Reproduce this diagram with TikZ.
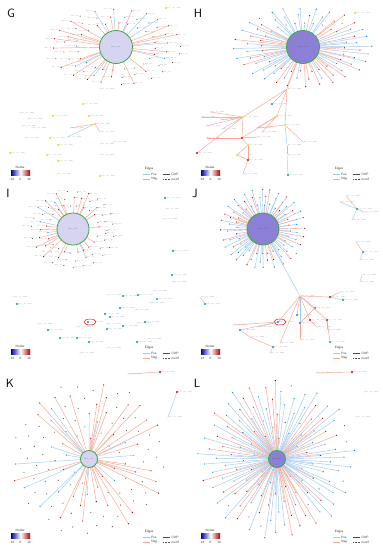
\documentclass[tikz,border=0pt]{standalone}
\usetikzlibrary{shapes.geometric}
\definecolor{posc}{RGB}{160,202,238}
\definecolor{negc}{RGB}{248,165,145}
\definecolor{hubl}{RGB}{214,212,240}
\definecolor{hubd}{RGB}{140,128,214}
\definecolor{ylw}{RGB}{235,215,30}
\definecolor{hubg}{RGB}{60,170,70}
\tikzset{
 lbl/.style={font=\fontsize{1.5}{1.8}\selectfont, text=black!55, inner sep=0.2pt},
 legt/.style={font=\sffamily\fontsize{3.2}{3.6}\selectfont, text=black!80, inner sep=0.2pt},
 plet/.style={font=\sffamily\fontsize{12}{12}\selectfont, inner sep=0pt},
 dotk/.style={circle, fill=black!75, inner sep=0pt, minimum size=1.1pt},
 dotb/.style={circle, fill=blue!50!cyan, inner sep=0pt, minimum size=1.3pt},
 dotr/.style={circle, fill=red!70!black, inner sep=0pt, minimum size=1.3pt},
 yl/.style={circle, fill=ylw, inner sep=0pt, minimum size=2.2pt, label={[lbl]right:hsa\_circ\_0000}},
 bl/.style={circle, fill=cyan!70!blue, inner sep=0pt, minimum size=2.2pt, label={[lbl]right:hsa\_circ\_0000}},
 rl/.style={circle, fill=red!80!black, inner sep=0pt, minimum size=2.2pt, label={[lbl]right:hsa\_circ\_0000}},
 tl/.style={circle, fill=black!40, inner sep=0pt, minimum size=0.8pt, label={[lbl]right:hsa\_circ\_0000}},
 posE/.style={draw=posc, line width=0.45pt},
 negE/.style={draw=negc, line width=0.45pt},
 hubL/.style={circle, draw=hubg, line width=0.8pt, fill=hubl, inner sep=0pt, font=\fontsize{1.8}{2}\selectfont, text=black!60},
 hubD/.style={circle, draw=hubg, line width=0.8pt, fill=hubd, inner sep=0pt, font=\fontsize{1.8}{2}\selectfont, text=black!70},
 ring/.style={draw=red, ellipse, line width=0.5pt, minimum width=12pt, minimum height=6pt, inner sep=0pt}
}
% ring network: #1 prefix #2 cx #3 cy #4 rx #5 ry #6 N #7 edge prob #8 blue prob #9 labels
\newcommand\ringnet[9]{%
 \coordinate (#1c) at (#2,#3);
 \foreach \i in {1,...,#6}{%
  \pgfmathsetmacro\ang{360/#6*\i+5*rnd}%
  \pgfmathsetmacro\ff{(mod(\i,3)==0 ? 0.62 : (mod(\i,3)==1 ? 0.82 : 1.0))+0.05*rnd}%
  \pgfmathsetmacro\px{#2+#4*\ff*cos(\ang)}%
  \pgfmathsetmacro\py{#3+#5*\ff*sin(\ang)}%
  \pgfmathsetmacro\cs{cos(\ang)}%
  \pgfmathsetmacro\ee{rnd}%
  \pgfmathsetmacro\bb{rnd}%
  \ifdim\ee pt<#7pt
    \ifdim\bb pt<#8pt
      \node[dotb] (#1\i) at (\px,\py) {};
      \draw[posE] (#1c) -- (#1\i);
    \else
      \node[dotr] (#1\i) at (\px,\py) {};
      \draw[negE] (#1c) -- (#1\i);
    \fi
  \else
    \node[dotk] (#1\i) at (\px,\py) {};
  \fi
  \ifnum#9=1
    \ifdim\cs pt<0pt
      \node[lbl,anchor=east] (#1t\i) at (#1\i.west) {hsa\_circ};
    \else
      \node[lbl,anchor=west] (#1t\i) at (#1\i.east) {hsa\_circ};
    \fi
  \fi
 }%
}
% disk network: #1 prefix #2 cx #3 cy #4 R #5 N #6 edge prob #7 blue prob
\newcommand\disknet[7]{%
 \coordinate (#1c) at (#2,#3);
 \foreach \i in {1,...,#5}{%
  \pgfmathsetmacro\ang{360*frac(\i*0.381966)}%
  \pgfmathsetmacro\rr{#4*sqrt((\i+7)/(#5+7))}%
  \pgfmathsetmacro\px{#2+\rr*cos(\ang)}%
  \pgfmathsetmacro\py{#3+\rr*sin(\ang)}%
  \pgfmathsetmacro\ee{rnd}%
  \pgfmathsetmacro\bb{rnd}%
  \ifdim\ee pt<#6pt
    \ifdim\bb pt<#7pt
      \node[dotb] (#1\i) at (\px,\py) {};
      \draw[posE] (#1c) -- (#1\i);
    \else
      \node[dotr] (#1\i) at (\px,\py) {};
      \draw[negE] (#1c) -- (#1\i);
    \fi
  \else
    \node[dotk] (#1\i) at (\px,\py) {};
  \fi
 }%
}
% legends: #1 prefix #2 dx #3 dy
\newcommand\legends[3]{%
 \begin{scope}[shift={(#2,#3)}]
  \node[legt] (#1nt) at (20,167) {Nodes};
  \shade[left color=blue!65!black, right color=red!70!black, middle color=white] (11,170) rectangle (30,175.5);
  \node[legt] (#1n1) at (12,179) {-10};
  \node[legt] (#1n2) at (20.5,179) {0};
  \node[legt] (#1n3) at (29,179) {10};
  \node[legt] (#1et) at (149,169) {Edges};
  \draw[posE, line width=0.7pt] (143,174) -- (150,174);
  \node[legt, anchor=west] (#1e1) at (151,174) {Pos.};
  \draw[black!70, line width=0.4pt] (163,174) -- (170,174);
  \node[legt, anchor=west] (#1e2) at (171,174) {ChIP};
  \draw[negE, line width=0.7pt] (143,179) -- (150,179);
  \node[legt, anchor=west] (#1e3) at (151,179) {Neg.};
  \draw[black!70, line width=0.4pt, dash pattern=on 0.6pt off 1pt] (163,179) -- (170,179);
  \node[legt, anchor=west] (#1e4) at (171,179) {motif};
 \end{scope}}
\begin{document}
\begin{tikzpicture}[x=1pt,y=-1pt]
\useasboundingbox[fill=white] (0,0) rectangle (383,550);
\pgfmathsetseed{7}
% ---------------- G ----------------
\node[plet] (pG) at (11,13) {G};
\ringnet{g}{116}{47}{62}{36}{72}{0.42}{0.22}{1}
\node[hubL, minimum size=33pt] (ghub) at (gc) {hsa\_circ};
\foreach \nm/\xx/\yy/\ty in {gs1/100/89/tl, gs2/83/104/yl, gs3/53/116/yl, gs4/89/116/yl, gs5/20/113/tl, gs6/28/119/tl, gs7/22/126/tl, gs8/32/128/tl, gs9/95/124/yl, gs10/70/128/tl, gs11/67/137/tl, gs12/100/132/tl, gs13/25/138/tl, gs14/50/138/yl, gs15/58/145/yl, gs16/100/144/tl, gs17/113/142/tl, gs18/10/153/yl, gs19/47/155/yl, gs20/100/155/tl, gs21/58/161/yl, gs22/57/174/tl, gs23/100/176/yl, gs24/166/8/yl}
  {\node[\ty] (\nm) at (\xx,\yy) {};}
\foreach \ea/\eb/\es in {gs9/gs10/negE, gs9/gs11/posE, gs9/gs12/negE}
  {\draw[\es] (\ea) -- (\eb);}
\legends{lg}{0}{0}
% ---------------- H ----------------
\node[plet] (pH) at (198,13) {H};
\ringnet{h}{303}{47}{66}{38}{84}{0.93}{0.55}{0}
\node[hubD, minimum size=33pt] (hhub) at (hc) {hsa\_circ};
\foreach \nm/\xx/\yy/\ty in {hs1/287/89/tl, hs2/272/104/bl, hs3/243/117/yl, hs4/277/116/yl, hs5/285/125/yl, hs6/210/112/tl, hs7/201/117/tl, hs8/220/120/tl, hs9/206/126/tl, hs10/222/129/tl, hs11/257/128/tl, hs12/262/132/tl, hs13/242/138/rl, hs14/206/138/tl, hs15/257/137/tl, hs16/248/145/yl, hs17/197/153/rl, hs18/237/155/yl, hs19/248/160/rl, hs20/243/174/tl, hs21/287/145/tl, hs22/287/155/tl, hs23/303/142/tl, hs24/288/175/bl, hs25/355/13/yl}
  {\node[\ty] (\nm) at (\xx,\yy) {};}
\foreach \ea/\eb/\es in {hhub/hs1/negE, hs1/hs3/negE, hs1/hs4/negE, hs1/hs2/posE, hs1/hs5/negE, hs3/hs6/negE, hs3/hs7/posE, hs3/hs8/negE, hs3/hs9/negE, hs3/hs10/posE, hs4/hs11/negE, hs4/hs12/negE, hs4/hs13/negE, hs5/hs11/negE, hs5/hs21/posE, hs21/hs22/posE, hs22/hs24/posE, hs13/hs14/negE, hs13/hs15/negE, hs13/hs16/negE, hs16/hs18/negE, hs16/hs19/negE, hs18/hs19/negE, hs19/hs20/negE, hs3/hs17/negE, hs3/hs13/negE, hs5/hs23/negE}
  {\draw[\es] (\ea) -- (\eb);}
\legends{lh}{190}{0}
% ---------------- I ----------------
\node[plet] (pI) at (8,193) {I};
\ringnet{i}{73}{229}{40}{37}{70}{0.42}{0.2}{1}
\node[hubL, minimum size=32pt] (ihub) at (ic) {hsa\_circ};
\foreach \nm/\xx/\yy/\ty in {is1/165/198/bl, is2/165/209/tl, is3/163/219/tl, is4/173/251/bl, is5/172/275/bl, is6/172/282/tl, is7/13/297/tl, is8/17/304/bl, is9/107/295/tl, is10/123/296/bl, is11/138/295/bl, is12/153/291/tl, is13/157/299/bl, is14/150/303/tl, is15/120/308/bl, is16/135/310/tl, is17/105/314/bl, is18/110/317/bl, is19/88/322/bl, is20/107/324/tl, is21/123/326/bl, is22/145/322/bl, is23/137/323/tl, is24/38/324/tl, is25/48/330/bl, is26/77/327/tl, is27/107/329/bl, is28/60/338/bl, is29/77/338/bl, is30/89/342/bl, is31/137/342/bl, is32/147/339/tl, is33/107/348/tl, is34/80/353/tl}
  {\node[\ty] (\nm) at (\xx,\yy) {};}
\node[ring] (iring) at ([xshift=2pt]is19) {};
\legends{li}{0}{179}
% ---------------- J ----------------
\node[plet] (pJ) at (195,193) {J};
\ringnet{j}{263}{229}{41}{38}{84}{0.95}{0.55}{0}
\node[hubD, minimum size=32pt] (jhub) at (jc) {hsa\_circ};
\foreach \nm/\xx/\yy/\ty in {js1/357/209/bl, js2/346/196/tl, js3/340/202/tl, js4/364/212/tl, js5/352/220/tl, js6/363/252/bl, js7/356/242/tl, js8/360/260/tl, js9/362/275/tl, js10/360/282/tl, js11/205/304/bl, js12/200/297/tl, js13/300/296/tl, js14/330/297/rl, js15/340/292/tl, js16/343/300/bl, js17/315/308/bl, js18/297/315/bl, js19/278/322/bl, js20/300/323/bl, js21/310/320/rl, js22/327/320/rl, js23/317/327/tl, js24/280/343/tl, js25/233/325/tl, js26/240/330/bl, js27/258/327/tl, js28/250/337/tl, js29/273/347/bl, js30/300/340/tl, js31/330/342/bl, js32/270/353/tl, js33/327/330/tl}
  {\node[\ty] (\nm) at (\xx,\yy) {};}
\node[ring] (jring) at ([xshift=2pt]js19) {};
\foreach \ea/\eb/\es in {jhub/js13/posE, js13/js17/negE, js13/js18/negE, js13/js19/negE, js13/js20/posE, js13/js21/negE, js13/js22/negE, js13/js14/negE, js14/js15/negE, js14/js16/posE, js1/js2/negE, js1/js3/posE, js1/js4/negE, js1/js5/posE, js6/js7/negE, js6/js8/posE, js9/js10/posE, js11/js12/posE, js19/js25/negE, js19/js26/negE, js19/js27/posE, js26/js28/negE, js28/js29/negE, js20/js30/negE, js22/js31/negE, js21/js23/negE, js29/js32/posE, js13/js24/negE, js17/js20/negE, js22/js33/negE}
  {\draw[\es] (\ea) -- (\eb);}
\legends{lj}{190}{179}
% ---------------- K ----------------
\node[plet] (pK) at (10,383) {K};
\disknet{k}{89}{459}{78}{120}{0.36}{0.35}
\node[hubL, minimum size=17pt] (khub) at (kc) {hsa\_circ};
\foreach \nm/\xx/\yy/\ty in {ks1/128/374/tl, ks2/160/372/rl, ks3/177/392/rl, ks4/168/417/tl}
  {\node[\ty] (\nm) at (\xx,\yy) {};}
\foreach \ea/\eb/\es in {ks1/ks2/negE, ks3/ks4/posE}
  {\draw[\es] (\ea) -- (\eb);}
\legends{lk}{0}{363}
% ---------------- L ----------------
\node[plet] (pL) at (197,383) {L};
\disknet{l}{277}{459}{80}{130}{0.86}{0.6}
\node[hubD, minimum size=17pt] (lhub) at (lc) {hsa\_circ};
\foreach \nm/\xx/\yy/\ty in {ls1/316/373/tl, ls2/352/372/rl, ls3/364/392/tl, ls4/356/417/tl}
  {\node[\ty] (\nm) at (\xx,\yy) {};}
\foreach \ea/\eb/\es in {ls1/ls2/negE}
  {\draw[\es] (\ea) -- (\eb);}
\legends{ll}{190}{363}
\end{tikzpicture}
\end{document}
